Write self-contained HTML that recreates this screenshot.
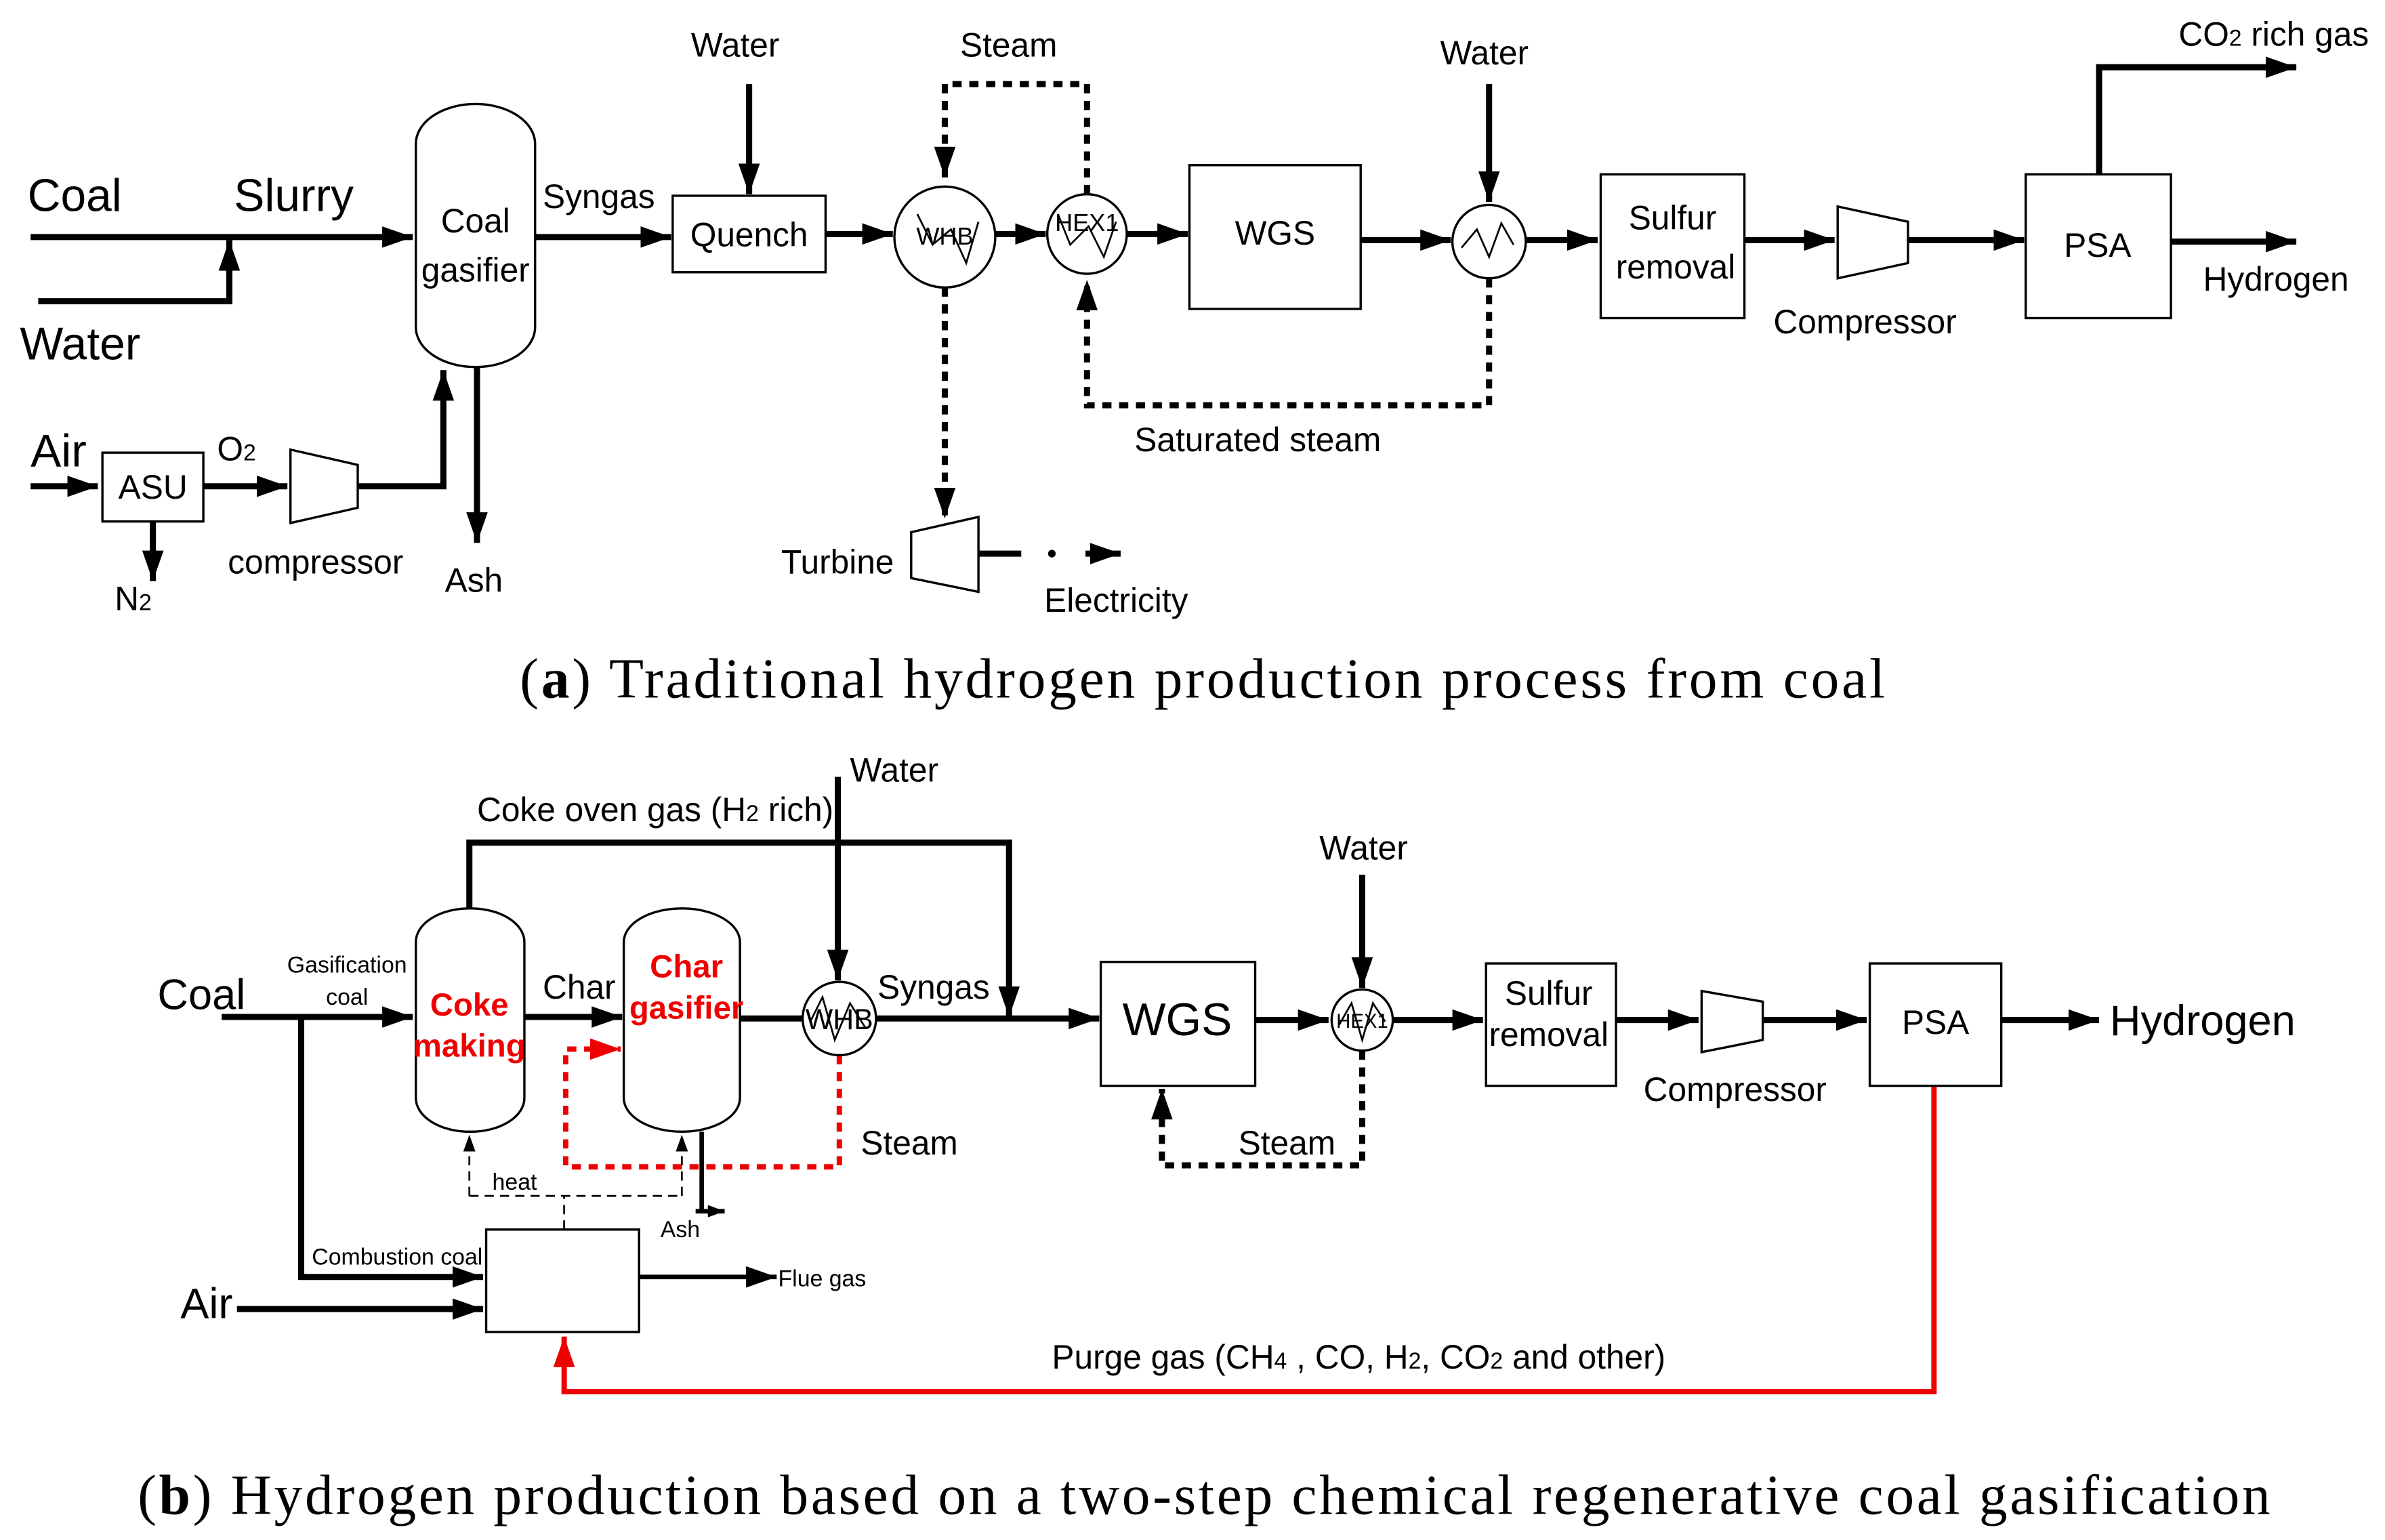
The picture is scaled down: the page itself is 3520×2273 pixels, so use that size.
<!DOCTYPE html>
<html><head><meta charset="utf-8"><style>
html,body{margin:0;padding:0;background:#fff;}
svg{display:block;}
text{font-family:"Liberation Sans",Arial,sans-serif;}
.s{font-family:"Liberation Serif",serif;}
.red{fill:#e00;}
</style></head><body>
<svg width="3520" height="2273" viewBox="0 0 1560 1007" preserveAspectRatio="none" xmlns="http://www.w3.org/2000/svg">
<defs>
<marker id="a" markerUnits="userSpaceOnUse" markerWidth="22" markerHeight="16" refX="20" refY="7" orient="auto"><path d="M0,0 L20,7 L0,14 Z" fill="#000"/></marker>
<marker id="r" markerUnits="userSpaceOnUse" markerWidth="22" markerHeight="16" refX="20" refY="7" orient="auto"><path d="M0,0 L20,7 L0,14 Z" fill="#e00"/></marker>
<marker id="t" markerUnits="userSpaceOnUse" markerWidth="12" markerHeight="10" refX="11" refY="4" orient="auto"><path d="M0,0 L11,4 L0,8 Z" fill="#000"/></marker>
</defs>
<g fill="none" stroke="#000" stroke-width="4">
<path d="M20,155 H270" marker-end="url(#a)"/>
<path d="M25,197 H150 V157" marker-end="url(#a)"/>
<path d="M350,155 H439" marker-end="url(#a)"/>
<path d="M490,55 V127" marker-end="url(#a)"/>
<path d="M540,153 H584" marker-end="url(#a)"/>
<path d="M651,153 H684" marker-end="url(#a)"/>
<path d="M737,153 H777" marker-end="url(#a)"/>
<path d="M890,157 H949" marker-end="url(#a)"/>
<path d="M974,55 V132" marker-end="url(#a)"/>
<path d="M998,157 H1045" marker-end="url(#a)"/>
<path d="M1141,157 H1200" marker-end="url(#a)"/>
<path d="M1248,157 H1324" marker-end="url(#a)"/>
<path d="M1373,114 V44 H1502" marker-end="url(#a)"/>
<path d="M1420,158 H1502" marker-end="url(#a)"/>
<path d="M20,318 H64" marker-end="url(#a)"/>
<path d="M100,341 V380" marker-end="url(#a)"/>
<path d="M133,318 H188" marker-end="url(#a)"/>
<path d="M234,318 H290 V242" marker-end="url(#a)"/>
<path d="M312,240 V355" marker-end="url(#a)"/>
<path d="M640,362 H668"/>
<path d="M710,362 H733" marker-end="url(#a)"/>
<g stroke-dasharray="6,5">
<path d="M711,127 V55 H618 V116" marker-end="url(#a)"/>
<path d="M618,188 V339" marker-end="url(#a)"/>
<path d="M974,182 V265 H711 V183" marker-end="url(#a)"/>
</g>
</g>
<circle cx="688" cy="362" r="2.5" fill="#000"/>
<g fill="#fff" stroke="#000" stroke-width="1.5">
<rect x="272" y="68" width="78" height="172" rx="39" ry="26"/>
<rect x="440" y="128" width="100" height="50"/>
<circle cx="618" cy="155" r="33"/>
<circle cx="711" cy="153" r="26"/>
<rect x="778" y="108" width="112" height="94"/>
<circle cx="974" cy="158" r="24"/>
<rect x="1047" y="114" width="94" height="94"/>
<rect x="1325" y="114" width="95" height="94"/>
<rect x="67" y="296" width="66" height="45"/>
<path d="M190,294 L234,304 L234,332 L190,342 Z"/>
<path d="M1202,135 L1248,145 L1248,172 L1202,182 Z"/>
<path d="M596,348 L640,338 L640,387 L596,378 Z"/>
</g>
<g fill="none" stroke="#000" stroke-width="1.2">
<path d="M600,140 L610,160 L622,150 L632,172 L640,145"/>
<path d="M692,140 L700,160 L712,148 L722,168 L730,145"/>
<path d="M956,162 L966,150 L974,168 L982,146 L990,160"/>
</g>
<g font-size="30"><text x="18" y="138">Coal</text><text x="153" y="138">Slurry</text><text x="13" y="235">Water</text><text x="20" y="305">Air</text></g>
<g font-size="22">
<text x="311" y="152" text-anchor="middle">Coal</text><text x="311" y="184" text-anchor="middle">gasifier</text>
<text x="355" y="136">Syngas</text><text x="490" y="161" text-anchor="middle">Quench</text>
<text x="452" y="37">Water</text><text x="628" y="37">Steam</text><text x="942" y="42">Water</text>
<text x="834" y="160" text-anchor="middle">WGS</text>
<text x="1094" y="150" text-anchor="middle">Sulfur</text><text x="1096" y="182" text-anchor="middle">removal</text>
<text x="1372" y="168" text-anchor="middle">PSA</text>
<text x="1425" y="30">CO<tspan font-size="15">2</tspan> rich gas</text>
<text x="1441" y="190">Hydrogen</text><text x="1160" y="218">Compressor</text>
<text x="742" y="295">Saturated steam</text><text x="511" y="375">Turbine</text><text x="683" y="400">Electricity</text>
<text x="100" y="326" text-anchor="middle">ASU</text><text x="142" y="301">O<tspan font-size="15">2</tspan></text>
<text x="75" y="399">N<tspan font-size="15">2</tspan></text>
<text x="149" y="375">compressor</text><text x="291" y="387">Ash</text>
</g>
<g font-size="16"><text x="618" y="160" text-anchor="middle">WHB</text><text x="711" y="151" text-anchor="middle">HEX1</text></g>
<text class="s" x="340" y="456" font-size="37" textLength="893"><tspan>(</tspan><tspan font-weight="bold">a</tspan>) Traditional hydrogen production process from coal</text>

<g fill="none" stroke="#000" stroke-width="4">
<path d="M145,665 H270" marker-end="url(#a)"/>
<path d="M197,665 V835 H316" marker-end="url(#a)"/>
<path d="M155,856 H316" marker-end="url(#a)"/>
<path d="M343,665 H407" marker-end="url(#a)"/>
<path d="M307,594 V551 H660 V665" marker-end="url(#a)"/>
<path d="M548,508 V641" marker-end="url(#a)"/>
<path d="M484,666 H525"/>
<path d="M573,666 H719" marker-end="url(#a)"/>
<path d="M821,667 H869" marker-end="url(#a)"/>
<path d="M891,572 V646" marker-end="url(#a)"/>
<path d="M911,667 H970" marker-end="url(#a)"/>
<path d="M1057,667 H1111" marker-end="url(#a)"/>
<path d="M1153,667 H1221" marker-end="url(#a)"/>
<path d="M1309,667 H1373" marker-end="url(#a)"/>
<path d="M459,740 V792" stroke-width="3"/>
<path d="M418,835 H508" stroke-width="3" marker-end="url(#a)"/>
<path d="M891,687 V762 H760 V712" stroke-dasharray="6,5" marker-end="url(#a)"/>
</g>
<path d="M455,792 H474" stroke="#000" stroke-width="3" marker-end="url(#t)"/>
<g fill="none" stroke="#e00" stroke-width="3.5">
<path d="M549,690 V763 H370 V686 H406" stroke-dasharray="6,5" marker-end="url(#r)"/>
<path d="M1265,710 V910 H369 V874" marker-end="url(#r)"/>
</g>
<g fill="none" stroke="#000" stroke-width="1.2" stroke-dasharray="6,4">
<path d="M369,804 V782"/><path d="M307,782 H446"/>
<path d="M307,782 V742" marker-end="url(#t)"/><path d="M446,782 V742" marker-end="url(#t)"/>
</g>
<g fill="#fff" stroke="#000" stroke-width="1.5">
<rect x="272" y="594" width="71" height="146" rx="35" ry="22"/>
<rect x="408" y="594" width="76" height="146" rx="38" ry="22"/>
<circle cx="549" cy="666" r="24"/>
<rect x="720" y="629" width="101" height="81"/>
<circle cx="891" cy="667" r="20"/>
<rect x="972" y="630" width="85" height="80"/>
<path d="M1113,648 L1153,655 L1153,680 L1113,688 Z"/>
<rect x="1223" y="630" width="86" height="80"/>
<rect x="318" y="804" width="100" height="67"/>
</g>
<g fill="none" stroke="#000" stroke-width="1.2">
<path d="M530,668 L538,652 L546,680 L556,656 L566,672"/>
<path d="M876,670 L884,656 L891,680 L898,656 L906,668"/>
</g>
<g font-size="22">
<text x="103" y="660" font-size="28">Coal</text><text x="118" y="862" font-size="28">Air</text>
<text x="355" y="653">Char</text><text x="312" y="537">Coke oven gas (H<tspan font-size="15">2</tspan> rich)</text>
<text x="556" y="511">Water</text><text x="574" y="653">Syngas</text><text x="563" y="755">Steam</text>
<text x="770" y="677" text-anchor="middle" font-size="30">WGS</text>
<text x="863" y="562">Water</text><text x="810" y="755">Steam</text>
<text x="1013" y="657" text-anchor="middle">Sulfur</text><text x="1013" y="684" text-anchor="middle">removal</text>
<text x="1266" y="676" text-anchor="middle">PSA</text><text x="1075" y="720">Compressor</text>
<text x="1380" y="677" font-size="28">Hydrogen</text>
<text x="688" y="895">Purge gas (CH<tspan font-size="15">4</tspan> , CO, H<tspan font-size="15">2</tspan>, CO<tspan font-size="15">2</tspan> and other)</text>
</g>
<g font-size="21" font-weight="bold" text-anchor="middle">
<text class="red" x="307" y="664">Coke</text><text class="red" x="307" y="691">making</text>
<text class="red" x="449" y="639">Char</text><text class="red" x="449" y="666">gasifier</text>
</g>
<g font-size="15">
<text x="227" y="636" text-anchor="middle">Gasification</text><text x="227" y="657" text-anchor="middle">coal</text>
<text x="204" y="827">Combustion coal</text><text x="322" y="778">heat</text>
<text x="432" y="809">Ash</text><text x="509" y="841">Flue gas</text>
<text x="549" y="673" text-anchor="middle" font-size="19">WHB</text>
<text x="891" y="672" text-anchor="middle" font-size="13">HEX1</text>
</g>
<text class="s" x="90" y="990" font-size="37" textLength="1395"><tspan>(</tspan><tspan font-weight="bold">b</tspan>) Hydrogen production based on a two-step chemical regenerative coal gasification</text>
</svg>
</body></html>
